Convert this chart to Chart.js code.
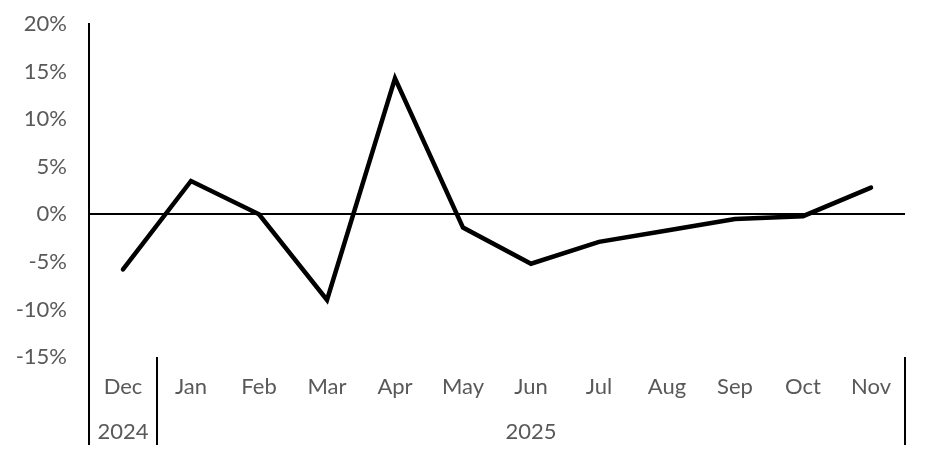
<!DOCTYPE html>
<html>
<head>
<meta charset="utf-8">
<script src="https://cdn.jsdelivr.net/npm/chart.js@4.4.1/dist/chart.umd.min.js"></script>
<style>
  html, body { margin: 0; padding: 0; background: #fff; }
  #wrap { width: 928px; height: 456px; }
</style>
</head>
<body>
<div id="wrap"><canvas id="canvas" width="928" height="456"></canvas></div>
<script>
const months = ['Dec', 'Jan', 'Feb', 'Mar', 'Apr', 'May', 'Jun', 'Jul', 'Aug', 'Sep', 'Oct', 'Nov'];
const years = ['2024', '2025'];
const yearSpans = [1, 11]; // number of months under each year
const changes = [-5.8, 3.5, 0.0, -9.0, 14.3, -1.4, -5.2, -2.9, -1.7, -0.5, -0.2, 2.8];
const yTicks = [-15, -10, -5, 0, 5, 10, 15, 20];

const TEXT = '#595959';
const FONT = 'Lato';
const FSIZE = 22;

// year row + category separators under the x axis
const yearRow = {
    id: 'yearRow',
    afterDraw(chart) {
        const {ctx, chartArea, scales: {x}} = chart;
        const half = (x.getPixelForValue(1) - x.getPixelForValue(0)) / 2;
        const bottom = 445;
        ctx.save();
        ctx.strokeStyle = '#000';
        ctx.lineWidth = 2;
        // left axis continues down
        ctx.beginPath();
        ctx.moveTo(chartArea.left, chartArea.bottom);
        ctx.lineTo(chartArea.left, bottom);
        ctx.stroke();

        ctx.fillStyle = TEXT;
        ctx.font = FSIZE + 'px ' + FONT;
        ctx.textAlign = 'center';
        ctx.textBaseline = 'middle';
        let start = 0;
        years.forEach((yr, i) => {
            const end = start + yearSpans[i] - 1;
            const x0 = x.getPixelForValue(start) - half;
            const x1 = x.getPixelForValue(end) + half;
            ctx.fillText(yr, (x0 + x1) / 2, 432);
            ctx.beginPath();
            ctx.moveTo(x1, chartArea.bottom);
            ctx.lineTo(x1, bottom);
            ctx.stroke();
            start = end + 1;
        });
        ctx.restore();
    }
};

new Chart(document.getElementById('canvas').getContext('2d'), {
    type: 'line',
    data: {
        labels: months,
        datasets: [{
            label: 'Change',
            data: changes,
            borderColor: '#000',
            borderWidth: 4.5,
            pointRadius: 0,
            tension: 0,
            borderCapStyle: 'round',
            fill: false
        }]
    },
    options: {
        responsive: false,
        animation: false,
        layout: {padding: {top: 24, right: 23, left: 0, bottom: 0}},
        plugins: {
            legend: {display: false},
            tooltip: {enabled: false}
        },
        scales: {
            x: {
                offset: true,
                grid: {display: false, drawTicks: false, offset: true},
                border: {display: false},
                ticks: {
                    color: TEXT,
                    font: {family: FONT, size: FSIZE},
                    padding: 17,
                    maxRotation: 0,
                    autoSkip: false
                },
                afterFit(scale) { scale.height = 99; }
            },
            y: {
                min: -15,
                max: 20,
                afterBuildTicks(scale) { scale.ticks = yTicks.map(v => ({value: v})); },
                grid: {
                    drawTicks: false,
                    lineWidth: 2,
                    color: (c) => c.tick && c.tick.value === 0 ? '#000' : 'rgba(0,0,0,0)'
                },
                border: {display: true, color: '#000', width: 2},
                ticks: {
                    color: TEXT,
                    font: {family: FONT, size: FSIZE},
                    padding: 22,
                    callback: (v) => v + '%'
                },
                afterFit(scale) {
                    scale.width = 89;
                    scale.paddingTop = 0;
                    scale.paddingBottom = 0;
                }
            }
        }
    },
    plugins: [yearRow]
});
</script>
</body>
</html>
